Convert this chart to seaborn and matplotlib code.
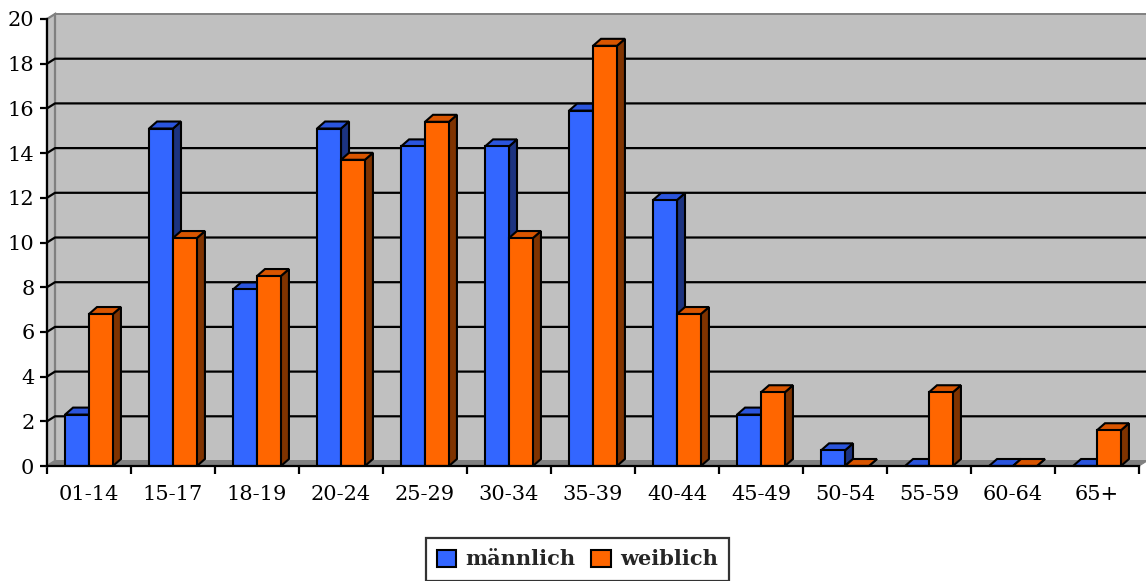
import numpy as np
import pandas as pd
import matplotlib
matplotlib.use("Agg")
import matplotlib.pyplot as plt
from matplotlib.patches import Polygon, Patch
from matplotlib.lines import Line2D
import seaborn as sns

# Altersgruppen und Anteile (%)
altersgruppen = ["01-14", "15-17", "18-19", "20-24", "25-29", "30-34", "35-39",
                 "40-44", "45-49", "50-54", "55-59", "60-64", "65+"]
maennlich = [2.3, 15.1, 7.9, 15.1, 14.3, 14.3, 15.9, 11.9, 2.3, 0.7, 0.0, 0.0, 0.0]
weiblich = [6.8, 10.2, 8.5, 13.7, 15.4, 10.2, 18.8, 6.8, 3.3, 0.0, 3.3, 0.0, 1.6]
geschlechter = ["männlich", "weiblich"]
y_ticks = list(range(0, 21, 2))

front = {"männlich": "#3366FF", "weiblich": "#FF6600"}
top_col = {"männlich": "#2B55DD", "weiblich": "#D95500"}
side_col = {"männlich": "#1C3380", "weiblich": "#7F3300"}

df = pd.DataFrame({
    "Altersgruppe": altersgruppen * 2,
    "Anteil": maennlich + weiblich,
    "Geschlecht": ["männlich"] * len(altersgruppen) + ["weiblich"] * len(altersgruppen),
})

sns.set_theme(style="white")
plt.rcParams["font.family"] = ["DejaVu Serif"]

W, H = 1146, 581
fig = plt.figure(figsize=(W / 100, H / 100), dpi=100)
ax = fig.add_axes([47 / W, 1 - 466 / H, (1139 - 47) / W, (466 - 19) / H])
ax.set_facecolor("none")

sns.barplot(data=df, x="Altersgruppe", y="Anteil", hue="Geschlecht",
            hue_order=geschlechter, order=altersgruppen, palette=front,
            saturation=1, width=0.57, edgecolor="black", linewidth=1.5,
            legend=False, ax=ax)

n = len(altersgruppen)
ax.set_xlim(-0.5, n - 0.5)
ax.set_ylim(0, 20)

# pixel -> data conversion for the pseudo-3D depth
px_x = n / (1139 - 47)
px_y = 20 / (466 - 19)
bdx, bdy = 8 * px_x, 7 * px_y      # bar depth
wdx, wdy = 8 * px_x, 5 * px_y      # back wall offset

x0, x1 = -0.5, n - 0.5
# back wall
ax.add_patch(Polygon([(x0 + wdx, wdy), (x1 + wdx, wdy), (x1 + wdx, 20 + wdy), (x0 + wdx, 20 + wdy)],
                     closed=True, facecolor="#C0C0C0", edgecolor="#808080", lw=1.4,
                     zorder=0.5, clip_on=False))
# floor
ax.add_patch(Polygon([(x0, 0), (x1, 0), (x1 + wdx, wdy), (x0 + wdx, wdy)],
                     closed=True, facecolor="#808080", edgecolor="#808080", lw=0.8,
                     zorder=0.6, clip_on=False))
# left side wall
ax.add_patch(Polygon([(x0, 0), (x0 + wdx, wdy), (x0 + wdx, 20 + wdy), (x0, 20)],
                     closed=True, facecolor="#C0C0C0", edgecolor="#808080", lw=1.6,
                     zorder=0.55, clip_on=False))
# gridlines on the wall
for v in y_ticks[1:-1]:
    ax.add_line(Line2D([x0, x0 + wdx, x1 + wdx], [v, v + wdy, v + wdy],
                       color="black", lw=1.6, zorder=0.7, clip_on=False))

# depth faces for every bar
for p in ax.patches[:]:
    if not hasattr(p, "get_x"):
        continue
    fc = matplotlib.colors.to_hex(p.get_facecolor()).lower()
    if fc == front["männlich"].lower():
        g = "männlich"
    elif fc == front["weiblich"].lower():
        g = "weiblich"
    else:
        continue
    x, w, h = p.get_x(), p.get_width(), p.get_height()
    base_z = 3 if g == "männlich" else 5
    p.set_zorder(base_z + 1)
    top = Polygon([(x, h), (x + w, h), (x + w + bdx, h + bdy), (x + bdx, h + bdy)],
                  closed=True, facecolor=top_col[g], edgecolor="black", lw=1.5,
                  zorder=base_z, clip_on=False, joinstyle="miter")
    side = Polygon([(x + w, 0), (x + w + bdx, bdy), (x + w + bdx, h + bdy), (x + w, h)],
                   closed=True, facecolor=side_col[g], edgecolor="black", lw=1.5,
                   zorder=base_z, clip_on=False, joinstyle="miter")
    ax.add_patch(side)
    ax.add_patch(top)

# axes styling
for s in ["top", "right"]:
    ax.spines[s].set_visible(False)
for s in ["left", "bottom"]:
    ax.spines[s].set_color("black")
    ax.spines[s].set_linewidth(1.6)
    ax.spines[s].set_zorder(8)

ax.set_yticks(y_ticks)
ax.set_yticklabels([str(v) for v in y_ticks])
ax.tick_params(axis="y", direction="out", length=5, width=1.6, color="black",
               labelsize=15, pad=4, labelcolor="black", left=True)
ax.set_xticks(np.arange(n))
ax.set_xticklabels(altersgruppen)
ax.set_xticks(np.arange(n + 1) - 0.5, minor=True)
ax.tick_params(axis="x", which="major", length=0, labelsize=15, pad=14, labelcolor="black")
ax.tick_params(axis="x", which="minor", direction="out", length=6, width=1.6, color="black", bottom=True)
ax.set_xlabel("")
ax.set_ylabel("")
ax.grid(False)

handles = [Patch(facecolor=front[g], edgecolor="black", lw=1.5) for g in geschlechter]
leg = fig.legend(handles, geschlechter, loc="upper center", bbox_to_anchor=(577.5 / W, 1 - 538 / H),
                 ncol=2, frameon=True, fancybox=False, edgecolor="black",
                 prop={"family": "DejaVu Serif", "weight": "bold", "size": 15},
                 handlelength=0.92, handleheight=0.92, handletextpad=0.45,
                 columnspacing=0.75, borderpad=0.55, borderaxespad=0)
leg.get_frame().set_linewidth(1.6)

fig.savefig("out.png", dpi=100, facecolor="white")
